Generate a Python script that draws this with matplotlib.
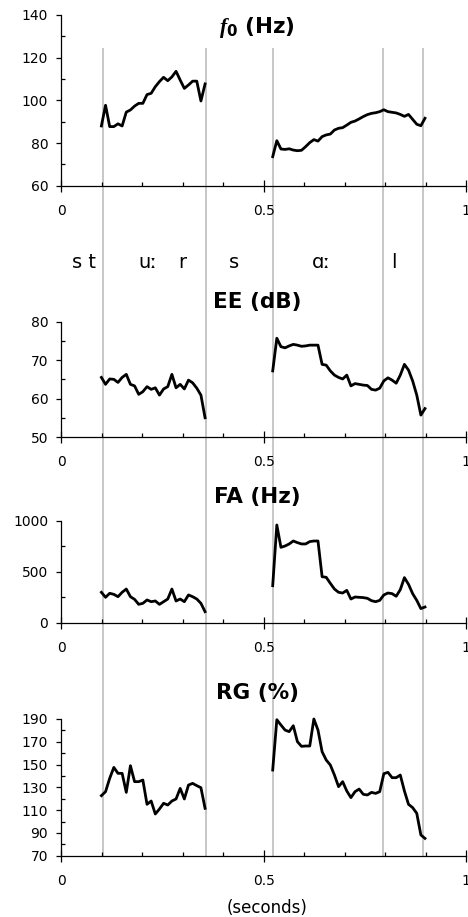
import numpy as np
import matplotlib.pyplot as plt
from matplotlib.ticker import MultipleLocator, FuncFormatter

plt.rcParams['font.family'] = 'DejaVu Sans'
plt.rcParams['mathtext.fontset'] = 'custom'
plt.rcParams['mathtext.it'] = 'Liberation Serif:italic:bold'
plt.rcParams['mathtext.bf'] = 'DejaVu Sans:bold'

# frame times of the two voiced stretches (seconds)
t1 = np.linspace(0.099, 0.355, 26)
t2 = np.linspace(0.522, 0.898, 38)

# f0 (Hz)
f0_1 = [88.0, 97.7, 87.7, 87.7, 89.0, 88.0, 94.5, 95.5, 97.3, 98.6, 98.6, 102.7, 103.3,
        106.4, 108.8, 110.8, 109.2, 111.0, 113.6, 109.5, 105.6, 107.2, 109.0, 109.0, 99.7, 107.7]
f0_2 = [73.6, 81.1, 77.2, 77.0, 77.3, 76.7, 76.4, 76.6, 78.3, 80.2, 81.6, 80.9, 83.0,
        83.8, 84.2, 86.1, 86.9, 87.2, 88.4, 89.7, 90.3, 91.3, 92.4, 93.3, 93.9, 94.2,
        94.7, 95.6, 94.7, 94.4, 94.1, 93.4, 92.5, 93.4, 91.1, 88.8, 88.1, 91.6]
# EE (dB)
ee_1 = [65.5, 63.7, 65.1, 65.0, 64.2, 65.5, 66.3, 63.7, 63.3, 61.1, 61.8, 63.1, 62.4,
        62.8, 60.9, 62.5, 63.1, 66.3, 62.8, 63.7, 62.5, 64.8, 64.1, 62.7, 60.9, 55.0]
ee_2 = [67.2, 75.7, 73.5, 73.2, 73.7, 74.1, 73.9, 73.6, 73.7, 73.9, 73.9, 73.9, 68.9,
        68.7, 67.2, 66.1, 65.5, 65.1, 66.1, 63.3, 63.9, 63.7, 63.5, 63.4, 62.4, 62.2,
        62.7, 64.6, 65.4, 64.8, 64.0, 66.1, 68.9, 67.4, 64.6, 60.9, 55.7, 57.4]
# FA (Hz)
fa_1 = [298, 249, 288, 278, 255, 298, 330, 255, 229, 180, 190, 223, 206,
        213, 180, 206, 232, 330, 213, 232, 206, 272, 255, 232, 190, 108]
fa_2 = [363, 958, 739, 752, 772, 801, 785, 772, 772, 795, 801, 801, 451,
        445, 386, 330, 298, 291, 317, 232, 252, 249, 246, 239, 216, 206,
        219, 272, 291, 285, 259, 324, 442, 376, 285, 219, 138, 154]
# RG (%)
rg_1 = [122.7, 126.2, 137.9, 147.5, 142.3, 142.3, 125.6, 149.0, 135.0, 135.0, 136.4, 115.1, 118.0,
        106.6, 111.0, 116.0, 114.5, 118.0, 119.8, 129.1, 119.8, 132.0, 133.5, 131.5, 129.7, 111.6]
rg_2 = [145.2, 189.4, 184.7, 180.3, 178.9, 184.1, 170.1, 166.0, 166.3, 166.3, 190.0, 180.3, 161.3,
        154.0, 149.6, 140.8, 130.6, 135.0, 126.8, 121.0, 126.2, 128.5, 123.9, 123.3, 125.6, 124.7,
        126.2, 142.0, 143.2, 138.5, 138.5, 140.8, 126.8, 115.1, 112.2, 107.2, 88.2, 85.2]

# segment boundaries and phoneme labels
boundaries = [0.102, 0.358, 0.523, 0.794, 0.894]
phonemes = ['s t', 'uː', 'r', 's', 'ɑː', 'l']
phoneme_t = [0.056, 0.214, 0.300, 0.426, 0.643, 0.821]

W, H = 468, 917
fig = plt.figure(figsize=(W / 100, H / 100), dpi=100)
L = 61.3 / W
AW = 405 / W

# gray boundary lines behind all panels
bg = fig.add_axes([L, 1 - 856 / H, AW, (856 - 48) / H], zorder=0)
bg.set_xlim(0, 1)
bg.set_ylim(0, 1)
bg.axis('off')
bg.vlines(boundaries, 0, 1, color='#c3c3c3', lw=1.3)

# (top px, bottom px, ylim, major, minor, series, title, title px)
panels = [
    (15, 185.7, (60, 140), 20, 10, f0_1, f0_2, r'$\mathit{f}_{\mathbf{0}}$ (Hz)', 27),
    (321.7, 437, (50, 80), 10, 5, ee_1, ee_2, 'EE (dB)', 301.7),
    (520.7, 622.7, (0, 1000), 500, 250, fa_1, fa_2, 'FA (Hz)', 497),
    (719, 855.7, (70, 190), 20, 10, rg_1, rg_2, 'RG (%)', 693),
]

for top, bot, ylim, maj, mnr, s1, s2, title, ty in panels:
    ax = fig.add_axes([L, 1 - bot / H, AW, (bot - top) / H], zorder=1)
    ax.patch.set_visible(False)
    ax.plot(t1, s1, color='black', lw=2.0, clip_on=False)
    ax.plot(t2, s2, color='black', lw=2.0, clip_on=False)
    ax.set_xlim(0, 1)
    ax.set_ylim(*ylim)
    for side in ['top', 'right']:
        ax.spines[side].set_visible(False)
    for side in ['left', 'bottom']:
        ax.spines[side].set_linewidth(0.9)
    ax.xaxis.set_major_locator(MultipleLocator(0.5))
    ax.xaxis.set_minor_locator(MultipleLocator(0.1))
    ax.xaxis.set_major_formatter(FuncFormatter(lambda v, p: '%g' % v))
    ax.set_yticks(np.arange(ylim[0], ylim[1] + 1, maj))
    ax.yaxis.set_minor_locator(MultipleLocator(mnr))
    ax.set_ylim(*ylim)
    ax.tick_params(axis='x', which='major', direction='inout', length=8, width=0.9, pad=9, labelsize=10)
    ax.tick_params(axis='x', which='minor', direction='in', length=3, width=0.9)
    ax.tick_params(axis='y', which='major', direction='out', length=3.4, width=0.9, pad=6, labelsize=10)
    ax.tick_params(axis='y', which='minor', direction='in', length=3, width=0.9)
    fig.text(257 / W, 1 - ty / H, title, ha='center', va='center',
             fontsize=15.5, fontweight='bold')

# phoneme row between f0 and EE
for lab, t in zip(phonemes, phoneme_t):
    fig.text(L + AW * t, 1 - 262 / H, lab, ha='center', va='center', fontsize=14)

fig.text(267 / W, 1 - 908 / H, '(seconds)', ha='center', va='center', fontsize=12)

plt.savefig('out.png', dpi=100)
